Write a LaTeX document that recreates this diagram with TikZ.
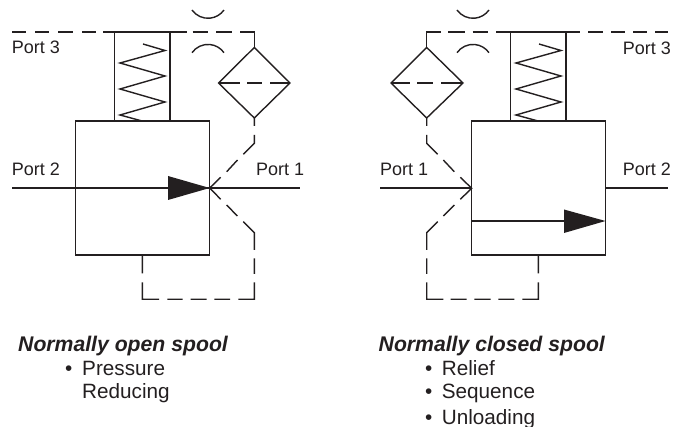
\documentclass[tikz,border=0pt]{standalone}
\usepackage{fontspec}
\setmainfont{Liberation Sans}
\definecolor{ink}{HTML}{231F20}
\tikzset{
  x=1pt,y=-1pt,
  line/.style={draw=ink,line width=1.4pt,line join=miter},
  thinline/.style={draw=ink,line width=1.2pt},
  thick spool/.style={draw=ink,line width=2.2pt},
  port/.style={anchor=base west,inner sep=0pt,text=ink,font=\fontsize{18}{20}\selectfont},
  item/.style={anchor=base west,inner sep=0pt,text=ink,font=\fontsize{20.7}{24}\selectfont},
  head/.style={anchor=base west,inner sep=0pt,text=ink,font=\fontsize{21.2}{24}\selectfont\bfseries\itshape},
  spoolhead/.style={fill=ink,draw=none}
}
\begin{document}
\begin{tikzpicture}
\useasboundingbox (0,0) rectangle (678,427);
% ---------- left valve
\coordinate (L1) at (75.5,121); \coordinate (L2) at (209.7,255);
\draw[line] (L1) rectangle (L2);
\draw[line] (114.5,32) -- (114.5,121) (170,32) -- (170,121);
\draw[line] (143,44) -- (165,50.5) -- (120,63) -- (165,76) -- (120,89) -- (165,102) -- (120,115) -- (142,121);
\draw[line] (12,32) -- (26,32) (35,32) -- (49,32) (58,32) -- (73,32) (82,32) -- (96,32)
  (103,32) -- (187,32) (192.5,32) -- (207.5,32) (216,32) -- (232,32) (240,32) -- (254.3,32) -- (254.3,47);
\coordinate (LDt) at (254.3,47.5); \coordinate (LDr) at (290,83); \coordinate (LDb) at (254.3,118); \coordinate (LDl) at (218.5,83);
\draw[line] (LDt) -- (LDr) -- (LDb) -- (LDl) -- cycle;
\draw[line] (218.5,83) -- (239.5,83) (247,83) -- (262,83) (270,83) -- (290,83);
\draw[line] (192,10) arc[start angle=144.7,end angle=35.3,radius=19.6];
\draw[line] (192,52.7) arc[start angle=215.3,end angle=324.7,radius=19.6];
\draw[thinline] (12,188) -- (300,188);
\draw[thick spool] (116,188) -- (170,188);
\fill[spoolhead] (168,176) -- (209.7,188) -- (168,200) -- cycle;
\draw[line] (254.3,118) -- (254.3,126) (254.3,135) -- (254.3,143.3) -- (243.3,154.3)
  (237.5,160) -- (226.7,171.7) (220.7,177.3) -- (209.7,188) -- (220.7,199.3)
  (226.7,205) -- (237.3,216) (243.3,221.7) -- (254.3,232.7) -- (254.3,250)
  (254.3,258.3) -- (254.3,274) (254.3,282.3) -- (254.3,299.3) -- (238.3,299.3)
  (230,299.3) -- (214.3,299.3) (206.7,299.3) -- (190.7,299.3) (182.7,299.3) -- (167.3,299.3)
  (159,299.3) -- (142.3,299.3) -- (142.3,282.3) (142.3,273.3) -- (142.3,255);
% ---------- right valve
\coordinate (R1) at (471.7,121); \coordinate (R2) at (605.5,255);
\draw[line] (R1) rectangle (R2);
\draw[line] (510.5,32) -- (510.5,121) (566,32) -- (566,121);
\draw[line] (539,44) -- (561,50.5) -- (516,63) -- (561,76) -- (516,89) -- (561,102) -- (516,115) -- (538,121);
\draw[line] (426.7,47) -- (426.7,32) -- (441,32) (448,32) -- (465,32) (472.5,32) -- (488,32)
  (496,32) -- (580,32) (588,32) -- (603,32) (611,32) -- (625,32) (633,32) -- (647,32) (655,32) -- (668,32);
\coordinate (RDt) at (426.7,47.5); \coordinate (RDr) at (463,83); \coordinate (RDb) at (426.7,118); \coordinate (RDl) at (391,83);
\draw[line] (RDt) -- (RDr) -- (RDb) -- (RDl) -- cycle;
\draw[line] (391,83) -- (410,83) (417,83) -- (433,83) (441,83) -- (463,83);
\draw[line] (457,10) arc[start angle=144.7,end angle=35.3,radius=19.6];
\draw[line] (457,52.7) arc[start angle=215.3,end angle=324.7,radius=19.6];
\draw[thinline] (380,188) -- (471.7,188);
\draw[thinline] (605.5,188) -- (668,188);
\draw[thinline] (471.7,221) -- (513,221);
\draw[thick spool] (512,221) -- (566,221);
\fill[spoolhead] (564,209.5) -- (605.5,221) -- (564,233) -- cycle;
\draw[line] (426.7,118) -- (426.7,126) (426.7,135) -- (426.7,143.3) -- (437.7,154.3)
  (443.3,160) -- (454.3,171.7) (460.3,177.3) -- (471.7,188.3) -- (460.3,199.3)
  (454.3,205) -- (443.3,216) (437.7,221.7) -- (426.7,232.7) -- (426.7,250)
  (426.7,258.3) -- (426.7,274) (426.7,282.3) -- (426.7,299.3) -- (443.3,299.3)
  (450.7,299.3) -- (466.7,299.3) (474.3,299.3) -- (490.7,299.3) (498.3,299.3) -- (514.3,299.3)
  (522.3,299.3) -- (538.3,299.3) -- (538.3,282.3) (538.3,273.3) -- (538.3,255);
% ---------- labels
\node[port] (p3l) at (11.7,54) {Port 3};
\node[port] (p2l) at (11.7,175.7) {Port 2};
\node[port] (p1l) at (256,175.7) {Port 1};
\node[port] (p3r) at (622.7,55) {Port 3};
\node[port] (p2r) at (622.7,175.7) {Port 2};
\node[port] (p1r) at (380,175.7) {Port 1};
\node[head] (hl) at (18,352) {Normally open spool};
\node[head] (hr) at (378.5,352) {Normally closed spool};
\node[item] (bl1) at (65,375.7) {•};
\node[item] (tl1) at (82,375.7) {Pressure};
\node[item] (tl2) at (82,399) {Reducing};
\node[item] (br1) at (425,375.7) {•};
\node[item] (tr1) at (441.7,375.7) {Relief};
\node[item] (br2) at (425,399) {•};
\node[item] (tr2) at (441.7,399) {Sequence};
\node[item] (br3) at (425,424.5) {•};
\node[item] (tr3) at (441.7,424.5) {Unloading};
\end{tikzpicture}
\end{document}
